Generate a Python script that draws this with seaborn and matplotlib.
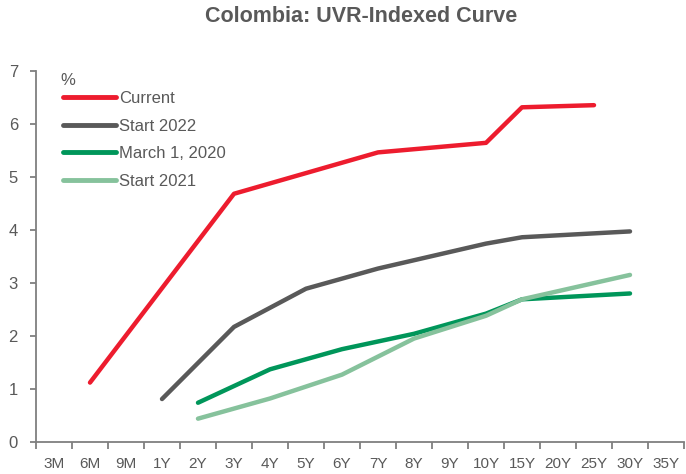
import matplotlib
matplotlib.use("Agg")
import matplotlib.pyplot as plt
from matplotlib.ticker import FixedLocator, NullFormatter
import seaborn as sns
import pandas as pd

tenors = ['3M', '6M', '9M', '1Y', '2Y', '3Y', '4Y', '5Y', '6Y', '7Y', '8Y', '9Y',
          '10Y', '15Y', '20Y', '25Y', '30Y', '35Y']

current_tenors = ['6M', '3Y', '7Y', '10Y', '15Y', '25Y']
current_vals = [1.12, 4.68, 5.46, 5.64, 6.31, 6.35]

start2022_tenors = ['1Y', '3Y', '5Y', '7Y', '10Y', '15Y', '30Y']
start2022_vals = [0.81, 2.17, 2.89, 3.27, 3.74, 3.86, 3.97]

march2020_tenors = ['2Y', '4Y', '6Y', '8Y', '10Y', '15Y', '30Y']
march2020_vals = [0.74, 1.37, 1.75, 2.04, 2.42, 2.69, 2.80]

start2021_tenors = ['2Y', '4Y', '6Y', '8Y', '10Y', '15Y', '30Y']
start2021_vals = [0.44, 0.82, 1.27, 1.95, 2.38, 2.69, 3.15]

series_names = ['Current', 'Start 2022', 'March 1, 2020', 'Start 2021']
colors = ['#ED1C2E', '#595959', '#00965A', '#86C29C']

rows = []
for name, ts, vs in zip(series_names,
                        [current_tenors, start2022_tenors, march2020_tenors, start2021_tenors],
                        [current_vals, start2022_vals, march2020_vals, start2021_vals]):
    for t, v in zip(ts, vs):
        rows.append({'series': name, 'pos': tenors.index(t) + 0.5, 'value': v})
df = pd.DataFrame(rows)

sns.set_style("white")
plt.rcParams['font.family'] = ['Liberation Sans', 'DejaVu Sans']
plt.rcParams['lines.solid_capstyle'] = 'round'
plt.rcParams['lines.solid_joinstyle'] = 'round'

fig = plt.figure(figsize=(6.86, 4.74), dpi=100)
ax = fig.add_axes([36/686, 1 - 442/474, 648/686, (442 - 70.7)/474])

sns.lineplot(data=df, x='pos', y='value', hue='series', hue_order=series_names,
             palette=colors, linewidth=3.2, sort=True, estimator=None, ax=ax)

ax.set_xlim(0, len(tenors))
ax.set_ylim(0, 7)
ax.set_xlabel('')
ax.set_ylabel('')

gray_axis = '#7F7F7F'
text_gray = '#595959'
for s in ['top', 'right']:
    ax.spines[s].set_visible(False)
for s in ['left', 'bottom']:
    ax.spines[s].set_color(gray_axis)
    ax.spines[s].set_linewidth(1.3)

ax.set_yticks(range(0, 8))
ax.set_yticklabels([str(i) for i in range(0, 8)], color=text_gray, fontsize=12)
ax.tick_params(axis='y', direction='out', length=4, width=1.3, color=gray_axis, pad=9, left=True)

ax.set_xticks([i + 0.5 for i in range(len(tenors))])
ax.set_xticklabels(tenors, color=text_gray, fontsize=11)
ax.tick_params(axis='x', which='major', length=0, pad=11, bottom=True)
ax.xaxis.set_minor_locator(FixedLocator(list(range(0, len(tenors) + 1))))
ax.xaxis.set_minor_formatter(NullFormatter())
ax.tick_params(axis='x', which='minor', direction='out', length=5, width=1.3,
               color=gray_axis, bottom=True)

leg = ax.legend(loc='upper left', bbox_to_anchor=(0.0417, 0.9446), frameon=False,
                fontsize=12, handlelength=3.2, handletextpad=0.15,
                labelspacing=0.75, borderpad=0, borderaxespad=0)
for t in leg.get_texts():
    t.set_color(text_gray)
for h in leg.get_lines():
    h.set_linewidth(3.5)

fig.text(67.5/686, 1 - 80.5/474, '%', ha='center', va='center', color=text_gray, fontsize=12)

fig.suptitle('Colombia: UVR-Indexed Curve', x=361/686, y=1 - 17/474, va='center',
             fontsize=15.5, fontweight='bold', color=text_gray)

fig.savefig('out.png', dpi=100)
